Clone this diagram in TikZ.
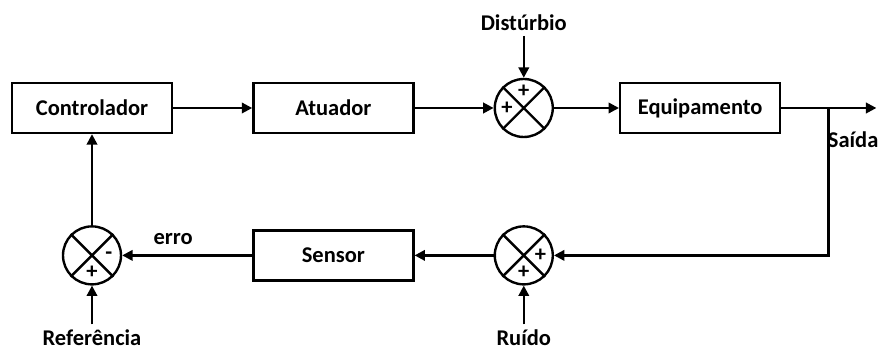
\documentclass[tikz,border=0pt]{standalone}
\usepackage{fontspec}
\setmainfont{Carlito}
\usetikzlibrary{arrows.meta,positioning,calc}
\tikzset{
    block/.style={rectangle, draw, line width=1.7pt, minimum width=4cm, minimum height=1.25cm},
    junction/.style={circle, draw, line width=1.7pt, minimum size=1.45cm, inner sep=0pt},
    line/.style={draw, line width=1.7pt, -{Triangle[length=2.6mm,width=2.6mm]}},
    sign/.style={font=\fontsize{16}{18}\selectfont\bfseries, inner sep=0pt}
}

\begin{document}
\begin{tikzpicture}[font=\fontsize{16}{19}\selectfont\bfseries]
    \useasboundingbox (0,0) rectangle (22,8.725);

    % Forward path
    \node [block] (ctrl) at (2.3,6.025) {Controlador};
    \node [block, right=1.975cm of ctrl] (atua) {Atuador};
    \node [junction, right=1.975cm of atua] (somaD) {};
    \node [block, right=1.625cm of somaD] (equip) {Equipamento};
    \coordinate [right=1.175cm of equip] (ramo);
    \coordinate [right=1.2cm of ramo] (fim);

    % Feedback path
    \node [block, below=2.375cm of atua] (sens) {Sensor};
    \node [junction] (somaE) at (ctrl |- sens) {};
    \node [junction] (somaR) at (somaD |- sens) {};

    % Crosses inside the summing junctions
    \foreach \s in {somaD,somaE,somaR}
        \draw [line width=1.7pt] (\s.north west) -- (\s.south east) (\s.north east) -- (\s.south west);

    % Signs
    \node [sign] at ([shift={(0,0.42cm)}]somaD) {+};
    \node [sign] at ([shift={(-0.42cm,0)}]somaD) {+};
    \node [sign] at ([shift={(0.42cm,0)}]somaE) {-};
    \node [sign] at ([shift={(0,-0.42cm)}]somaE) {+};
    \node [sign] at ([shift={(0.42cm,0)}]somaR) {+};
    \node [sign] at ([shift={(0,-0.42cm)}]somaR) {+};

    % External signals
    \node (dist) at ([yshift=2.125cm]somaD) {Distúrbio};
    \node (ruido) at ([yshift=-2.05cm]somaR) {Ruído};
    \node (ref) at ([yshift=-2.05cm]somaE) {Referência};
    \node (saida) at ([shift={(0.62cm,-0.8cm)}]ramo) {Saída};
    \node (erro) at ([shift={(2.03cm,0.4cm)}]somaE) {erro};

    % Connections
    \path [line] (ctrl) -- (atua);
    \path [line] (atua) -- (somaD);
    \path [line] (dist) -- (somaD);
    \path [line] (somaD) -- (equip);
    \path [line] (equip) -- (fim);
    \path [line] (ramo) |- (somaR);
    \path [line] (ruido) -- (somaR);
    \path [line] (somaR) -- (sens);
    \path [line] (sens) -- (somaE);
    \path [line] (ref) -- (somaE);
    \path [line] (somaE) -- (ctrl);
\end{tikzpicture}
\end{document}
